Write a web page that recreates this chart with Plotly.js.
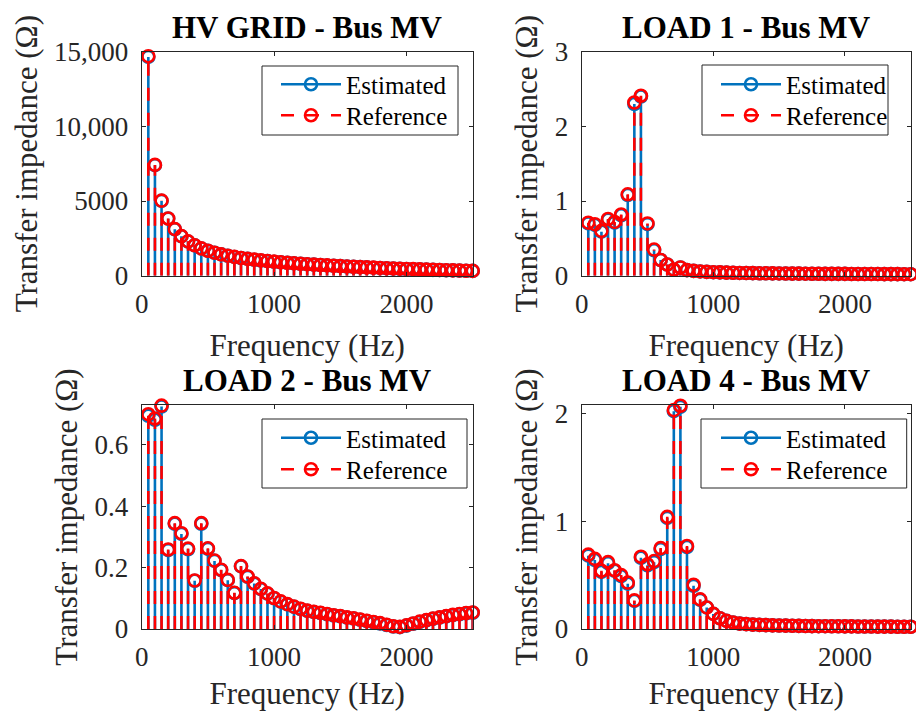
<!DOCTYPE html>
<html><head><meta charset="utf-8">
<script src="https://cdn.plot.ly/plotly-3.0.1.min.js"></script>
<style>html,body{margin:0;padding:0;background:#fff}</style>
</head><body><div id="chart" style="width:916px;height:711px"></div>
<script>
const freq = [50,100,150,200,250,300,350,400,450,500,550,600,650,700,750,800,850,900,950,1000,
  1050,1100,1150,1200,1250,1300,1350,1400,1450,1500,1550,1600,1650,1700,1750,1800,1850,1900,1950,2000,
  2050,2100,2150,2200,2250,2300,2350,2400,2450,2500];

// HV GRID - Bus MV
const hvRef = [14700,7420,5030,3830,3120,2650,2300,2040,1830,1670,1540,1430,1340,1260,1190,1130,1075,1025,980,940,
  900,865,832,800,770,742,715,690,666,643,620,598,577,557,538,520,502,485,469,453,
  438,423,409,395,382,369,357,345,333,322];
const hvEst = [14650,7400,5010,3820,3110,2640,2290,2030,1825,1665,1535,1425,1335,1255,1185,1125,1070,1020,975,935,
  897,862,830,798,768,740,713,688,664,641,618,596,575,555,536,518,500,483,467,451,
  436,421,407,393,380,367,355,343,331,320];

// LOAD 1 - Bus MV
const l1Ref = [0.71,0.69,0.60,0.76,0.72,0.82,1.09,2.32,2.41,0.70,0.35,0.21,0.15,0.08,0.11,0.075,0.065,0.057,0.051,0.047,
  0.044,0.041,0.039,0.037,0.036,0.034,0.033,0.032,0.031,0.030,0.029,0.028,0.028,0.027,0.026,0.026,0.025,0.025,0.024,0.024,
  0.023,0.023,0.022,0.022,0.022,0.021,0.021,0.021,0.020,0.020];
const l1Est = [0.70,0.68,0.59,0.75,0.71,0.81,1.08,2.30,2.40,0.69,0.34,0.21,0.15,0.08,0.11,0.075,0.065,0.057,0.051,0.047,
  0.044,0.041,0.039,0.037,0.036,0.034,0.033,0.032,0.031,0.030,0.029,0.028,0.028,0.027,0.026,0.026,0.025,0.025,0.024,0.024,
  0.023,0.023,0.022,0.022,0.022,0.021,0.021,0.021,0.020,0.020];

// LOAD 2 - Bus MV
const l2Ref = [0.700,0.686,0.728,0.259,0.345,0.312,0.262,0.158,0.345,0.263,0.223,0.193,0.160,0.118,0.205,0.171,0.149,0.131,0.116,0.101,
  0.090,0.081,0.073,0.066,0.060,0.056,0.053,0.049,0.045,0.042,0.038,0.035,0.031,0.027,0.023,0.019,0.014,0.009,0.007,0.012,
  0.018,0.024,0.029,0.034,0.038,0.042,0.046,0.049,0.052,0.054];
const l2Est = [0.695,0.682,0.725,0.257,0.343,0.310,0.260,0.157,0.343,0.261,0.222,0.192,0.159,0.117,0.204,0.170,0.148,0.130,0.115,0.100,
  0.089,0.080,0.072,0.065,0.059,0.055,0.052,0.048,0.044,0.041,0.037,0.034,0.030,0.026,0.022,0.018,0.013,0.008,0.006,0.011,
  0.017,0.023,0.028,0.033,0.037,0.041,0.045,0.048,0.051,0.053];

// LOAD 4 - Bus MV
const l4Ref = [0.69,0.65,0.54,0.62,0.545,0.50,0.43,0.265,0.67,0.60,0.63,0.75,1.04,2.03,2.07,0.77,0.41,0.275,0.20,0.14,
  0.10,0.075,0.060,0.050,0.045,0.041,0.038,0.036,0.034,0.032,0.031,0.030,0.029,0.028,0.027,0.026,0.026,0.025,0.025,0.024,
  0.024,0.023,0.023,0.023,0.022,0.022,0.022,0.021,0.021,0.021];
const l4Est = [0.68,0.64,0.53,0.61,0.54,0.49,0.42,0.26,0.66,0.59,0.62,0.74,1.03,2.02,2.06,0.76,0.40,0.27,0.20,0.14,
  0.10,0.075,0.060,0.050,0.045,0.041,0.038,0.036,0.034,0.032,0.031,0.030,0.029,0.028,0.027,0.026,0.026,0.025,0.025,0.024,
  0.024,0.023,0.023,0.023,0.022,0.022,0.022,0.021,0.021,0.021];

const panelTitles = ['HV GRID - Bus MV','LOAD 1 - Bus MV','LOAD 2 - Bus MV','LOAD 4 - Bus MV'];
const seriesNames = ['Estimated','Reference'];
const xTickVals = [0,1000,2000];
const xTickText = ['0','1000','2000'];
const yTickVals = [[0,5000,10000,15000],[0,1,2,3],[0,0.2,0.4,0.6],[0,1,2]];
const yTickText = [['0','5000','10,000','15,000'],['0','1','2','3'],['0','0.2','0.4','0.6'],['0','1','2']];
const yRanges = [[0,15000],[0,3],[0,0.73],[0,2.077]];
const estData = [hvEst,l1Est,l2Est,l4Est];
const refData = [hvRef,l1Ref,l2Ref,l4Ref];

const BLUE = '#0072BD', RED = '#FF0000', AX = '#262626';
const FONT = 'Liberation Serif';
const LW = 2.6, MS = 12;
const DASH = '13px,12px';
const W = 916, H = 711;

function stemXY(vals){
  const xs=[], ys=[];
  freq.forEach((f,i)=>{ xs.push(f,f,null); ys.push(0,vals[i],null); });
  return {xs, ys};
}
function markXY(vals){
  const xs=[], ys=[];
  freq.forEach((f,i)=>{ xs.push(f,null); ys.push(vals[i],null); });
  return {xs, ys};
}

// layout geometry (pixels)
const xDomPx = [[141.7,472.7],[581.7,910.7]];
const yDomPx = [[51.7,275.7],[405,629]];
// legend text left, row tops (px), frame box [x0,x1,y0,y1]
const legTextLeft = [346,786,346,786];
const legRowTop = [[61.5,92.5],[61.5,92.5],[415,446.5],[415,446.5]];
const legFrame = [[262,458,66,135],[702,888,65,135],[262,467,419,488],[701,906.7,419,488]];
const ITEMW = 60;

const traces = [];
const layout = {
  width:W, height:H,
  margin:{l:0,r:0,t:0,b:0,pad:0},
  paper_bgcolor:'#fff', plot_bgcolor:'#fff',
  font:{family:FONT, color:'#000'},
  showlegend:true,
  annotations:[], shapes:[]
};

for(let p=0;p<4;p++){
  const sfx = p===0 ? '' : String(p+1);
  const xa = 'x'+sfx, ya = 'y'+sfx;
  const series = [[estData[p], BLUE, 'solid'], [refData[p], RED, DASH]];
  series.forEach((s,k)=>{
    const li = 2*p+k;
    const lg = li===0 ? 'legend' : 'legend'+(li+1);
    const st = stemXY(s[0]);
    traces.push({type:'scatter', mode:'lines', x:st.xs, y:st.ys, xaxis:xa, yaxis:ya,
      line:{color:s[1], width:LW, dash:s[2]}, showlegend:false, hoverinfo:'skip', cliponaxis:false});
    const mk = markXY(s[0]);
    traces.push({type:'scatter', mode:'lines+markers', x:mk.xs, y:mk.ys, xaxis:xa, yaxis:ya,
      name:seriesNames[k], legend:lg, cliponaxis:false, connectgaps:false,
      line:{color:s[1], width:LW, dash:s[2]},
      marker:{symbol:'circle-open', size:MS, color:s[1], line:{color:s[1], width:LW}}});
    layout[lg] = {
      x:(legTextLeft[p]-ITEMW-10)/W, y:(H-legRowTop[p][k])/H, xanchor:'left', yanchor:'top',
      xref:'paper', yref:'paper',
      bgcolor:'rgba(0,0,0,0)', borderwidth:0,
      font:{family:FONT, size:25, color:'#000'},
      itemwidth:ITEMW
    };
  });
  const col = p%2, row = Math.floor(p/2);
  layout['xaxis'+sfx] = {
    domain:[xDomPx[col][0]/W, xDomPx[col][1]/W], anchor:ya, range:[0,2500],
    tickvals:xTickVals, ticktext:xTickText,
    ticks:'inside', ticklen:4, tickcolor:AX, tickwidth:1, showline:true, linecolor:AX, linewidth:1,
    mirror:'ticks', showgrid:false, zeroline:false, ticklabelstandoff:4,
    tickfont:{family:FONT, size:27, color:AX},
    title:{text:'Frequency (Hz)', font:{family:FONT, size:31, color:AX}, standoff:16}
  };
  layout['yaxis'+sfx] = {
    domain:[(H-yDomPx[row][1])/H, (H-yDomPx[row][0])/H], anchor:xa, range:yRanges[p],
    tickvals:yTickVals[p], ticktext:yTickText[p],
    ticks:'inside', ticklen:4, tickcolor:AX, tickwidth:1, showline:true, linecolor:AX, linewidth:1,
    mirror:'ticks', showgrid:false, zeroline:false, ticklabelstandoff:7,
    tickfont:{family:FONT, size:27, color:AX},
    title:{text:'Transfer impedance (\u03A9)', font:{family:FONT, size:31, color:AX}, standoff:7}
  };
  const fr = legFrame[p];
  layout.shapes.push({type:'rect', xref:'paper', yref:'paper', layer:'above',
    x0:fr[0]/W, x1:fr[1]/W, y0:(H-fr[3])/H, y1:(H-fr[2])/H,
    line:{color:AX, width:1}, fillcolor:'rgba(0,0,0,0)'});
  layout.annotations.push({
    text:'<b>'+panelTitles[p]+'</b>', xref:xa+' domain', yref:ya+' domain', x:0.5, y:1,
    xanchor:'center', yanchor:'bottom', yshift:4.5, showarrow:false,
    font:{family:FONT, size:31, color:'#000'}
  });
}

Plotly.newPlot('chart', traces, layout, {displayModeBar:false, staticPlot:true});
</script></body></html>
